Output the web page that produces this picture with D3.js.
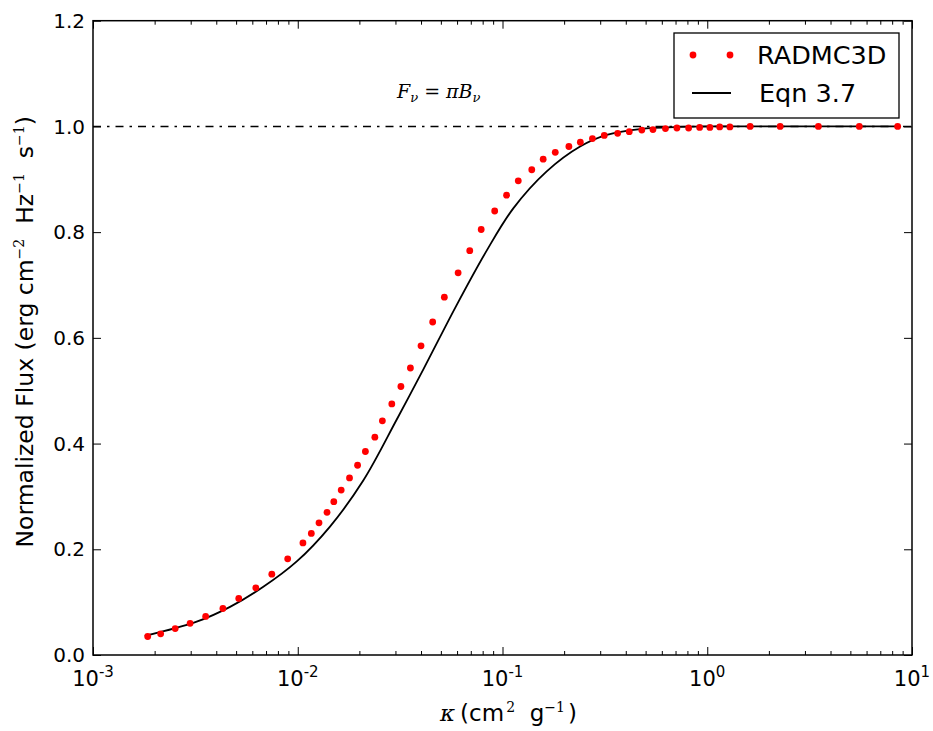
<!DOCTYPE html>
<html>
<head>
<meta charset="utf-8">
<script src="https://cdn.jsdelivr.net/npm/d3@7/dist/d3.min.js"></script>
<style>
  body { margin: 0; background: #fff; }
  text { font-family: "DejaVu Sans", sans-serif; fill: #000; white-space: pre; }
  .math { font-family: "DejaVu Serif", "Liberation Serif", serif; font-style: italic; }
</style>
</head>
<body>
<div id="chart"></div>
<script>
// RADMC3D points (kappa in cm^2/g, normalized flux)
const kappaData = [0.00185, 0.00214, 0.00252, 0.00298, 0.00355, 0.00431, 0.00515, 0.00624, 0.00747, 0.00893,
  0.0106, 0.01165, 0.0127, 0.0139, 0.0150, 0.0163, 0.0179, 0.0196, 0.0214, 0.0238,
  0.0259, 0.0288, 0.0319, 0.0355, 0.0400, 0.0456, 0.0520, 0.0607, 0.0692, 0.0787,
  0.0916, 0.1047, 0.1194, 0.139, 0.158, 0.181, 0.211, 0.240, 0.275, 0.314,
  0.365, 0.416, 0.479, 0.543, 0.625, 0.711, 0.811, 0.918, 1.03, 1.15,
  1.29, 1.62, 2.27, 3.49, 5.53, 8.51];
const fluxData = [0.035, 0.040, 0.050, 0.060, 0.073, 0.088, 0.107, 0.127, 0.153, 0.182,
  0.212, 0.230, 0.250, 0.270, 0.290, 0.312, 0.335, 0.359, 0.385, 0.412,
  0.443, 0.475, 0.508, 0.543, 0.585, 0.630, 0.677, 0.723, 0.765, 0.805,
  0.840, 0.870, 0.897, 0.918, 0.938, 0.951, 0.962, 0.970, 0.977, 0.983,
  0.987, 0.990, 0.993, 0.994, 0.996, 0.997, 0.997, 0.998, 0.998, 0.999,
  0.999, 1.0, 1.0, 1.0, 1.0, 1.0];

// Eqn 3.7 curve
const kappaModel = [0.00179, 0.00321, 0.00467, 0.00679, 0.00989, 0.01437, 0.02089, 0.0304,
  0.0410, 0.0597, 0.0837, 0.1129, 0.1644, 0.2393, 0.323, 0.470, 0.736, 1.153, 8.73];
const fluxModel = [0.036, 0.063, 0.091, 0.129, 0.177, 0.243, 0.330, 0.445,
  0.540, 0.662, 0.765, 0.845, 0.915, 0.962, 0.984, 0.995, 0.999, 1.0, 1.0];

const xExponents = [-3, -2, -1, 0, 1];
const yTicks = [0.0, 0.2, 0.4, 0.6, 0.8, 1.0, 1.2];
const blackbodyLevel = 1.0;
const legendLabels = ["RADMC3D", "Eqn 3.7"];

const width = 933, height = 731;
const margin = {top: 20.7, right: 21, bottom: 76, left: 93};

const svg = d3.select("#chart").append("svg")
    .attr("width", width)
    .attr("height", height);

const x = d3.scaleLog().domain([1e-3, 10]).range([margin.left, width - margin.right]);
const y = d3.scaleLinear().domain([0, 1.2]).range([height - margin.bottom, margin.top]);

// minor ticks 2..9 per decade
let minorX = [];
xExponents.slice(0, -1).forEach(e => {
    for (let m = 2; m <= 9; m++) minorX.push(m * Math.pow(10, e));
});
const majorX = xExponents.map(e => Math.pow(10, e));

function addTicks(axisFn, scale, values, size, transform) {
    svg.append("g")
        .attr("transform", transform)
        .call(axisFn(scale).tickValues(values).tickSize(size).tickFormat(""))
        .call(g => g.select(".domain").remove())
        .call(g => g.selectAll("line").attr("stroke", "#000").attr("stroke-width", 1));
}
const yb = y(0), yt = y(1.2), xl = x(1e-3), xr = x(10);
addTicks(d3.axisBottom, x, majorX, -8, `translate(0,${yb})`);
addTicks(d3.axisBottom, x, minorX, -4, `translate(0,${yb})`);
addTicks(d3.axisTop, x, majorX, -8, `translate(0,${yt})`);
addTicks(d3.axisTop, x, minorX, -4, `translate(0,${yt})`);
addTicks(d3.axisLeft, y, yTicks, -8, `translate(${xl},0)`);
addTicks(d3.axisRight, y, yTicks, -8, `translate(${xr},0)`);

// x tick labels 10^n
const xLab = svg.append("g").selectAll("text")
    .data(xExponents)
    .enter().append("text")
    .attr("x", d => x(Math.pow(10, d)))
    .attr("y", yb + 31)
    .attr("text-anchor", "middle")
    .style("font-size", "21px");
xLab.append("tspan").text("10");
xLab.append("tspan").text(d => d < 0 ? "-" + (-d) : d)
    .attr("dy", -9)
    .style("font-size", "15px");

// y tick labels
svg.append("g").selectAll("text")
    .data(yTicks)
    .enter().append("text")
    .attr("x", xl - 8)
    .attr("y", d => y(d))
    .attr("dy", "0.36em")
    .attr("text-anchor", "end")
    .style("font-size", "20px")
    .text(d => d.toFixed(1));

// F = pi B reference line
svg.append("line")
    .attr("x1", xl).attr("x2", xr)
    .attr("y1", y(blackbodyLevel)).attr("y2", y(blackbodyLevel))
    .attr("stroke", "#000")
    .attr("stroke-width", 1.5)
    .attr("stroke-dasharray", "8,6,2.5,6");

const fLabel = svg.append("text")
    .attr("class", "math")
    .attr("x", 397).attr("y", 98)
    .style("font-size", "19px");
fLabel.append("tspan").text("F");
fLabel.append("tspan").text("ν").attr("dy", 4).style("font-size", "13px");
fLabel.append("tspan").text(" = ").attr("dy", -4).style("font-style", "normal");
fLabel.append("tspan").text("πB");
fLabel.append("tspan").text("ν").attr("dy", 4).style("font-size", "13px");

// model curve
const line = d3.line()
    .x(d => x(d[0]))
    .y(d => y(d[1]))
    .curve(d3.curveCatmullRom.alpha(0.5));
svg.append("path")
    .datum(d3.zip(kappaModel, fluxModel))
    .attr("d", line)
    .attr("fill", "none")
    .attr("stroke", "#000")
    .attr("stroke-width", 1.8);

// RADMC3D dots
svg.append("g").selectAll("circle")
    .data(d3.zip(kappaData, fluxData))
    .enter().append("circle")
    .attr("cx", d => x(d[0]))
    .attr("cy", d => y(d[1]))
    .attr("r", 3.4)
    .attr("fill", "#ff0000");

// frame
svg.append("rect")
    .attr("x", xl).attr("y", yt)
    .attr("width", xr - xl).attr("height", yb - yt)
    .attr("fill", "none")
    .attr("stroke", "#000")
    .attr("stroke-width", 1.5);

// legend
const legend = svg.append("g").attr("transform", "translate(674,33)");
legend.append("rect")
    .attr("width", 225).attr("height", 85)
    .attr("fill", "#fff")
    .attr("stroke", "#000")
    .attr("stroke-width", 1.3);
[19, 56].forEach(cx => legend.append("circle")
    .attr("cx", cx).attr("cy", 22).attr("r", 3.4).attr("fill", "#ff0000"));
legend.append("line")
    .attr("x1", 18).attr("x2", 57).attr("y1", 60).attr("y2", 60)
    .attr("stroke", "#000").attr("stroke-width", 1.8);
legend.selectAll("text.lab")
    .data(legendLabels)
    .enter().append("text")
    .attr("class", "lab")
    .attr("x", (d, i) => i === 0 ? 83 : 85)
    .attr("y", (d, i) => i === 0 ? 31 : 69)
    .style("font-size", "25.5px")
    .text(d => d);

// x axis label
const supStyle = s => s.style("font-size", "14px").style("font-family", "DejaVu Serif");
const xTitle = svg.append("text")
    .attr("x", 440).attr("y", 721)
    .style("font-size", "23px");
xTitle.append("tspan").text("κ").attr("class", "math");
xTitle.append("tspan").text("(cm").attr("dx", 5);
xTitle.append("tspan").text("2").attr("dy", -9).attr("dx", 2).call(supStyle);
xTitle.append("tspan").text("  g").attr("dy", 9);
xTitle.append("tspan").text("−1").attr("dy", -9).call(supStyle);
xTitle.append("tspan").text(")").attr("dy", 9).attr("dx", 3);

// y axis label
const yTitle = svg.append("text")
    .attr("transform", `translate(33,${(yb + yt) / 2 - 6}) rotate(-90)`)
    .attr("text-anchor", "middle")
    .style("font-size", "23.5px");
yTitle.append("tspan").text("Normalized Flux (erg cm");
yTitle.append("tspan").text("−2").attr("dy", -9).call(supStyle);
yTitle.append("tspan").text("  Hz").attr("dy", 9);
yTitle.append("tspan").text("−1").attr("dy", -9).call(supStyle);
yTitle.append("tspan").text("  s").attr("dy", 9);
yTitle.append("tspan").text("−1").attr("dy", -9).call(supStyle);
yTitle.append("tspan").text(")").attr("dy", 9);
</script>
</body>
</html>
